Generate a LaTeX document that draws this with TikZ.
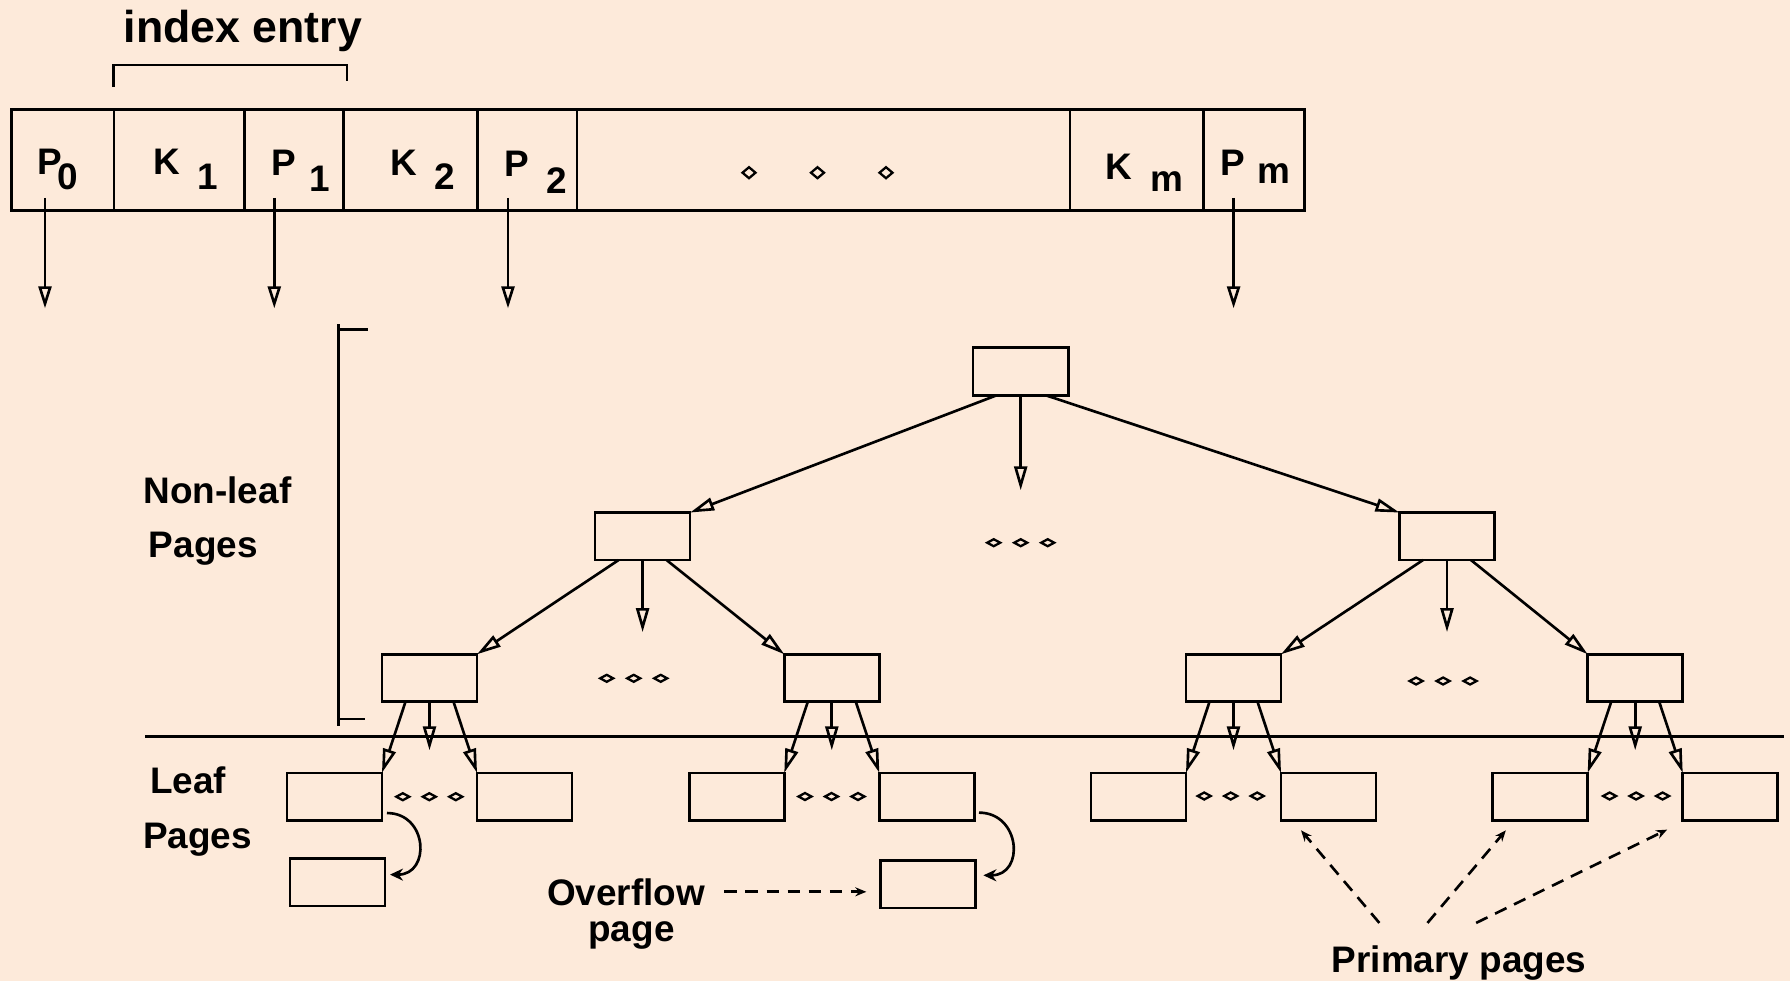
\documentclass[tikz,border=0pt]{standalone}
\usepackage{fontspec}
\setmainfont{Liberation Sans}
\usetikzlibrary{arrows.meta,positioning,calc}

\definecolor{peach}{RGB}{253,234,218}

% key with a lowered index: letter, gap, drop, index
\newcommand{\keysub}[4]{#1\hspace{#2}\raisebox{-#3}{#4}}
% three small diamonds: centre x, centre y, spacing, half width, half height
\newcommand{\dotrow}[5]{%
  \foreach \k in {0,1,2}
    \draw[line width=0.65pt] (#1+\k*#3-#3-#4,#2) -- ++(#4,-#5) -- ++(#4,#5) -- ++(-#4,#5) -- cycle;}

\begin{document}
\begin{tikzpicture}[
    x=0.01cm, y=-0.01cm,
    line width=0.75pt,
    slot/.style={draw, anchor=north west, minimum height=1.01cm, inner sep=0pt, outer sep=0pt},
    pagebox/.style={draw, minimum width=0.95cm, minimum height=0.475cm, inner sep=0pt, outer sep=0pt},
    txt/.style={font=\bfseries\fontsize{10.5}{12}\selectfont, inner sep=0pt, anchor=base},
    keytxt/.style={font=\bfseries\fontsize{10.5}{12}\selectfont, inner sep=0pt, anchor=base west},
    ptrarrow/.style={-{Triangle[open, length=0.22cm, width=0.13cm]}},
    childarrow/.style={-{Triangle[open, length=0.24cm, width=0.13cm]}},
    loopback/.style={-{Stealth[length=0.13cm, width=0.12cm]}},
    notearrow/.style={dash pattern=on 3.6pt off 2.4pt, -{Stealth[length=0.11cm, width=0.09cm]}}
]
\fill[peach] (0,0) rectangle (1790,981);

% ===== INDEX PAGE RECORD =====
\node[slot, minimum width=1.023cm] (cP0) at (11.7,109.3) {};
\node[slot, minimum width=1.303cm, right=0pt of cP0] (cK1) {};
\node[slot, minimum width=0.992cm, right=0pt of cK1] (cP1) {};
\node[slot, minimum width=1.337cm, right=0pt of cP1] (cK2) {};
\node[slot, minimum width=0.993cm, right=0pt of cK2] (cP2) {};
\node[slot, minimum width=4.93cm, right=0pt of cP2] (cgap) {};
\node[slot, minimum width=1.335cm, right=0pt of cgap] (cKm) {};
\node[slot, minimum width=1.005cm, right=0pt of cKm] (cPm) {};

\node[keytxt] (lP0) at (36.5,174) {\keysub{P}{-1.5pt}{4.3pt}{0}};
\node[keytxt] (lK1) at (152.3,174) {\keysub{K}{4.8pt}{4.3pt}{1}};
\node[keytxt] (lP1) at (270.5,175) {\keysub{P}{3.7pt}{4.7pt}{1}};
\node[keytxt] (lK2) at (389,175.7) {\keysub{K}{5pt}{3.9pt}{2}};
\node[keytxt] (lP2) at (503,176.7) {\keysub{P}{5pt}{4.7pt}{2}};
\node[keytxt] (lKm) at (1104,179) {\keysub{K}{5.3pt}{3.6pt}{m}};
\node[keytxt] (lPm) at (1219,175) {\keysub{P}{3.7pt}{2.3pt}{m}};

\dotrow{817.5}{172.7}{68.5}{6.5}{5.5}

% index entry bracket
\node[txt, font=\bfseries\fontsize{12.7}{14}\selectfont] (idx) at (242.8,42.7) {index entry};
\draw (113.5,87) -- (113.5,65) -- (347,65) -- (347,81);

% pointers out of the record
\coordinate (t0) at (45,308.3);
\coordinate (t1) at (274.3,308.3);
\coordinate (t2) at (508,308.3);
\coordinate (tm) at (1233.6,308.3);
\draw[ptrarrow] ([yshift=0.125cm]cP0.south -| t0) -- (t0);
\draw[ptrarrow] ([yshift=0.125cm]cP1.south -| t1) -- (t1);
\draw[ptrarrow] ([yshift=0.125cm]cP2.south -| t2) -- (t2);
\draw[ptrarrow] ([yshift=0.125cm]cPm.south -| tm) -- (tm);

% ===== NON-LEAF LEVELS =====
\node[pagebox] (root) at (1020.7,371.5) {};
\node[pagebox] (l2a) at (642.6,536.3) {};
\node[pagebox] (l2b) at (1447,536.3) {};
\node[pagebox] (l3a) at (429.5,678) {};
\node[pagebox] (l3b) at (831.8,678) {};
\node[pagebox] (l3c) at (1233.5,678) {};
\node[pagebox] (l3d) at (1635.2,678) {};

\draw[childarrow] ($(root.south)+(-24,0)$) -- (l2a.north east);
\draw[childarrow] (root.south) -- ++(0,95);
\draw[childarrow] ($(root.south)+(25,0)$) -- (l2b.north west);
\dotrow{1020.7}{542.7}{27}{6.5}{3.5}

\draw[childarrow] ($(l2a.south)+(-24,0)$) -- (l3a.north east);
\draw[childarrow] (l2a.south) -- ++(0,72);
\draw[childarrow] ($(l2a.south)+(24,0)$) -- (l3b.north west);
\dotrow{633.7}{678.3}{27}{6.5}{3.5}

\draw[childarrow] ($(l2b.south)+(-24,0)$) -- (l3c.north east);
\draw[childarrow] (l2b.south) -- ++(0,72);
\draw[childarrow] ($(l2b.south)+(24,0)$) -- (l3d.north west);
\dotrow{1443.1}{681}{27}{6.5}{3.5}

\draw (338.3,324) -- (338.3,726);
\draw (338.3,329.3) -- (368,329.3);
\draw (338.3,719) -- (365,719);
\node[txt] (nl1) at (217.5,503.3) {Non-leaf};
\node[txt] (nl2) at (203.3,557.3) {Pages};

\draw[line width=0.9pt] (145,736.7) -- (1783.8,736.7);

% ===== LEAF LEVEL =====
\node[pagebox, below left=0.71cm and 0cm of l3a] (lfa1) {};
\node[pagebox, below right=0.71cm and 0cm of l3a] (lfa2) {};
\node[pagebox, below left=0.71cm and 0cm of l3b] (lfb1) {};
\node[pagebox, below right=0.71cm and 0cm of l3b] (lfb2) {};
\node[pagebox, below left=0.71cm and 0cm of l3c] (lfc1) {};
\node[pagebox, below right=0.71cm and 0cm of l3c] (lfc2) {};
\node[pagebox, below left=0.71cm and 0cm of l3d] (lfd1) {};
\node[pagebox, below right=0.71cm and 0cm of l3d] (lfd2) {};

\draw[childarrow] ($(l3a.south)+(-24,0)$) -- (lfa1.north east);
\draw[childarrow] (l3a.south) -- ++(0,48.5);
\draw[childarrow] ($(l3a.south)+(24,0)$) -- (lfa2.north west);
\draw[childarrow] ($(l3b.south)+(-24,0)$) -- (lfb1.north east);
\draw[childarrow] (l3b.south) -- ++(0,48.5);
\draw[childarrow] ($(l3b.south)+(24,0)$) -- (lfb2.north west);
\draw[childarrow] ($(l3c.south)+(-24,0)$) -- (lfc1.north east);
\draw[childarrow] (l3c.south) -- ++(0,48.5);
\draw[childarrow] ($(l3c.south)+(24,0)$) -- (lfc2.north west);
\draw[childarrow] ($(l3d.south)+(-24,0)$) -- (lfd1.north east);
\draw[childarrow] (l3d.south) -- ++(0,48.5);
\draw[childarrow] ($(l3d.south)+(24,0)$) -- (lfd2.north west);

\dotrow{429.3}{796.7}{26.5}{6.5}{3.5}
\dotrow{831.5}{796.5}{26.5}{6.5}{3.5}
\dotrow{1230.7}{796}{26.5}{6.5}{3.5}
\dotrow{1636.1}{796}{26.5}{6.5}{3.5}

\node[txt] (lf1) at (188.3,793.3) {Leaf};
\node[txt] (lf2) at (197.5,848.3) {Pages};

% overflow chains
\node[pagebox, below=0.38cm of lfa1, xshift=0.03cm] (ov1) {};
\node[pagebox, below=0.4cm of lfb2, xshift=0.01cm] (ov2) {};
\draw[loopback] ([shift={(0.05cm,0.073cm)}]lfa1.south east) to[out=0, in=0, looseness=1.7] ([shift={(0.05cm,0.075cm)}]ov1.east);
\draw[loopback] ([shift={(0.046cm,0.077cm)}]lfb2.south east) to[out=0, in=0, looseness=1.7] ([shift={(0.08cm,0.088cm)}]ov2.east);

\node[txt] (ovl) at (626,905) {Overflow};
\node[txt] (ovl2) at (631.5,941.7) {page};
\draw[notearrow] ([xshift=0.18cm]ovl.east) -- ([xshift=-0.14cm]ovl.east -| ov2.west);

\node[txt] (prim) at (1459,972.7) {Primary pages};
\draw[notearrow] ([shift={(-0.796cm,0.217cm)}]prim.north) -- ([shift={(0.2cm,-0.1cm)}]lfc2.south west);
\draw[notearrow] ([shift={(-0.315cm,0.217cm)}]prim.north) -- ([shift={(0.132cm,-0.1cm)}]lfd1.south west);
\draw[notearrow] ([shift={(0.171cm,0.217cm)}]prim.north) -- ([shift={(-0.156cm,-0.093cm)}]lfd2.south west);

\end{tikzpicture}
\end{document}
